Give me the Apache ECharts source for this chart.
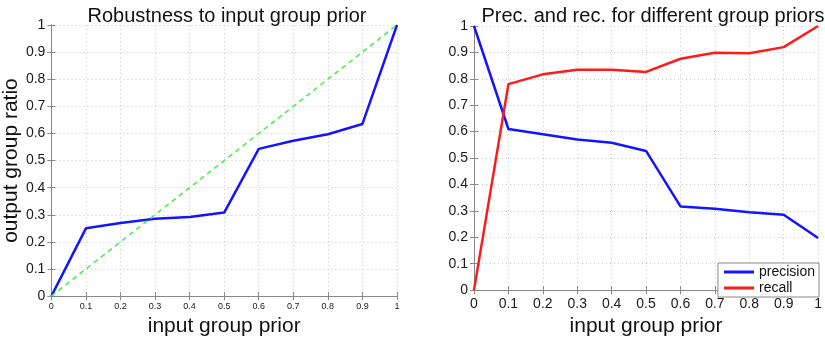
<!DOCTYPE html>
<html>
<head>
<meta charset="utf-8">
<script src="https://cdn.jsdelivr.net/npm/echarts@6/dist/echarts.min.js"></script>
<style>
  html, body { margin: 0; padding: 0; background: #fff; }
  #chart { width: 825px; height: 342px; }
</style>
</head>
<body>
<div id="chart"></div>
<script>
// input group prior (shared x values)
var priors = [0, 0.1, 0.2, 0.3, 0.4, 0.5, 0.6, 0.7, 0.8, 0.9, 1];

// left plot: robustness
var outputRatio = [0, 0.25, 0.27, 0.285, 0.292, 0.308, 0.543, 0.573, 0.597, 0.635, 1];
var identityLine = [0, 0.1, 0.2, 0.3, 0.4, 0.5, 0.6, 0.7, 0.8, 0.9, 1];

// right plot: precision / recall
var precision = [1, 0.61, 0.59, 0.57, 0.558, 0.527, 0.317, 0.308, 0.295, 0.285, 0.197];
var recall = [0, 0.78, 0.817, 0.834, 0.834, 0.826, 0.876, 0.899, 0.897, 0.92, 1];

function pairs(xs, ys) {
    return xs.map(function (x, i) { return [x, ys[i]]; });
}

var FONT = 'Liberation Sans';
var gridLine = { show: true, lineStyle: { color: '#c8c8c8', type: [1, 3], width: 1 } };
var frame = { show: true, lineStyle: { color: '#888', width: 1 } };

function xAx(gridIndex, labelSize, margin) {
    return {
        type: 'value', gridIndex: gridIndex, min: 0, max: 1, interval: 0.1,
        axisLine: frame,
        axisTick: { show: true, inside: true, length: 4, lineStyle: { color: '#888' } },
        axisLabel: { fontFamily: FONT, fontSize: labelSize, color: '#1a1a1a', margin: margin },
        splitLine: gridLine,
        name: 'input group prior',
        nameLocation: 'middle', nameGap: 16,
        nameTextStyle: { fontFamily: FONT, fontSize: 21, color: '#111', verticalAlign: 'top' }
    };
}
function xTop(gridIndex) {
    return {
        type: 'value', gridIndex: gridIndex, position: 'top', min: 0, max: 1, interval: 0.1,
        axisLine: frame,
        axisTick: { show: true, inside: true, length: 4, lineStyle: { color: '#888' } },
        axisLabel: { show: false }, splitLine: { show: false }
    };
}
function yAx(gridIndex, name) {
    return {
        type: 'value', gridIndex: gridIndex, min: 0, max: 1, interval: 0.1,
        axisLine: frame,
        axisTick: { show: true, inside: true, length: 4, lineStyle: { color: '#888' } },
        axisLabel: { fontFamily: FONT, fontSize: 14, color: '#1a1a1a', margin: 6 },
        splitLine: gridLine,
        name: name, nameLocation: 'middle', nameGap: 24, nameRotate: 90,
        nameTextStyle: { fontFamily: FONT, fontSize: 21, color: '#111' }
    };
}
function yRight(gridIndex) {
    return {
        type: 'value', gridIndex: gridIndex, position: 'right', min: 0, max: 1, interval: 0.1,
        axisLine: frame,
        axisTick: { show: true, inside: true, length: 4, lineStyle: { color: '#888' } },
        axisLabel: { show: false }, splitLine: { show: false }
    };
}

var myChart = echarts.init(document.getElementById('chart'));

var option = {
    animation: false,
    backgroundColor: '#fff',
    title: [
        { text: 'Robustness to input group prior', left: 222, top: 1, textAlign: 'center',
          textStyle: { fontFamily: FONT, fontSize: 20, fontWeight: 'normal', color: '#111' } },
        { text: 'Prec. and rec. for different group priors', left: 648, top: 1, textAlign: 'center',
          textStyle: { fontFamily: FONT, fontSize: 20, fontWeight: 'normal', color: '#111' } }
    ],
    grid: [
        { left: 48, right: 428, top: 25, bottom: 44 },
        { left: 474, right: 2, top: 26, bottom: 42 }
    ],
    legend: {
        data: ['precision', 'recall'],
        orient: 'vertical', right: 6, bottom: 45,
        itemWidth: 30, itemHeight: 3, itemGap: 2,
        padding: [2, 4, 2, 6],
        borderColor: '#888', borderWidth: 1, backgroundColor: '#fff',
        icon: 'rect',
        textStyle: { fontFamily: FONT, fontSize: 14, color: '#111' }
    },
    xAxis: [xAx(0, 9, 6), xAx(1, 14, 7), xTop(0), xTop(1)],
    yAxis: [yAx(0, 'output group ratio'), yAx(1, ''), yRight(0), yRight(1)],
    series: [
        { name: 'ratio', type: 'line', xAxisIndex: 0, yAxisIndex: 0, data: pairs(priors, outputRatio),
          showSymbol: false, lineStyle: { color: '#1414ff', width: 2.5 }, itemStyle: { color: '#1414ff' } },
        { name: 'identity', type: 'line', xAxisIndex: 0, yAxisIndex: 0, data: pairs(priors, identityLine),
          showSymbol: false, lineStyle: { color: '#44ee44', width: 1.5, type: [5, 4] }, itemStyle: { color: '#44ee44' } },
        { name: 'precision', type: 'line', xAxisIndex: 1, yAxisIndex: 1, data: pairs(priors, precision),
          showSymbol: false, lineStyle: { color: '#1414ff', width: 2.5 }, itemStyle: { color: '#1414ff' } },
        { name: 'recall', type: 'line', xAxisIndex: 1, yAxisIndex: 1, data: pairs(priors, recall),
          showSymbol: false, lineStyle: { color: '#ff1a1a', width: 2.5 }, itemStyle: { color: '#ff1a1a' } }
    ]
};

myChart.setOption(option);
</script>
</body>
</html>
